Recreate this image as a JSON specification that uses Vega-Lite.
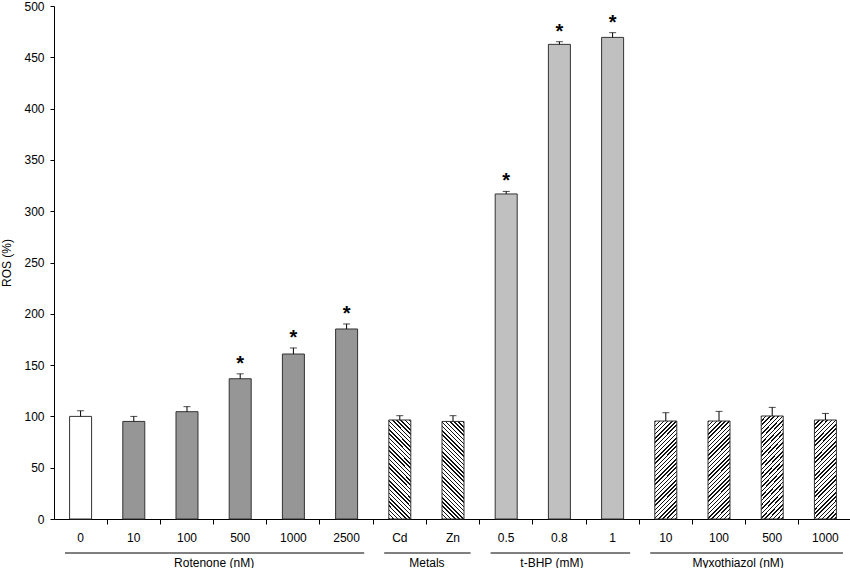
{
  "$schema": "https://vega.github.io/schema/vega-lite/v6.json",
  "padding": 0,
  "config": {
    "font": "Liberation Sans",
    "view": {"stroke": null},
    "axis": {"grid": false, "labelFont": "Liberation Sans", "labelFontSize": 12, "labelColor": "#000", "titleFont": "Liberation Sans", "titleFontSize": 12, "titleFontWeight": "normal", "titleColor": "#000", "domainColor": "#000", "tickColor": "#000"}
  },
  "datasets": {
    "bars": [
      {"id": "R|0", "kind": "ctrl", "ros": 100, "hi": 105.5, "sig": false},
      {"id": "R|10", "kind": "rot", "ros": 95.1, "hi": 100, "sig": false},
      {"id": "R|100", "kind": "rot", "ros": 104.6, "hi": 109.5, "sig": false},
      {"id": "R|500", "kind": "rot", "ros": 136.7, "hi": 141.5, "sig": true},
      {"id": "R|1000", "kind": "rot", "ros": 160.8, "hi": 166.7, "sig": true},
      {"id": "R|2500", "kind": "rot", "ros": 185.2, "hi": 190.1, "sig": true},
      {"id": "M|Cd", "kind": "metal", "ros": 96.5, "hi": 100.7, "sig": false},
      {"id": "M|Zn", "kind": "metal", "ros": 95.1, "hi": 100.7, "sig": false},
      {"id": "T|0.5", "kind": "tbhp", "ros": 316.8, "hi": 319.3, "sig": true},
      {"id": "T|0.8", "kind": "tbhp", "ros": 462.6, "hi": 465.2, "sig": true},
      {"id": "T|1", "kind": "tbhp", "ros": 469.4, "hi": 474, "sig": true},
      {"id": "X|10", "kind": "myxo", "ros": 95.5, "hi": 103.6, "sig": false},
      {"id": "X|100", "kind": "myxo", "ros": 95.5, "hi": 104.9, "sig": false},
      {"id": "X|500", "kind": "myxo", "ros": 100.4, "hi": 108.8, "sig": false},
      {"id": "X|1000", "kind": "myxo", "ros": 96.5, "hi": 102.9, "sig": false}
    ],
    "groups": [
      {"group": "Rotenone (nM)", "a": 0, "b": 6},
      {"group": "Metals", "a": 6, "b": 8},
      {"group": "t-BHP (mM)", "a": 8, "b": 11},
      {"group": "Myxothiazol (nM)", "a": 11, "b": 15}
    ]
  },
  "spacing": 9,
  "vconcat": [
    {
      "width": 798,
      "height": 513,
      "data": {"name": "bars"},
      "encoding": {
        "x": {"field": "id", "type": "nominal",
          "sort": ["R|0", "R|10", "R|100", "R|500", "R|1000", "R|2500", "M|Cd", "M|Zn", "T|0.5", "T|0.8", "T|1", "X|10", "X|100", "X|500", "X|1000"],
          "scale": {"paddingInner": 0.5865, "paddingOuter": 0.293},
          "axis": {"title": null, "labelAngle": 0, "labelExpr": "split(datum.label, '|')[1]", "tickSize": 5, "labelPadding": 8, "bandPosition": 1.709}
        }
      },
      "layer": [
        {"transform": [{"filter": "datum.kind === 'ctrl'"}],
         "mark": {"type": "bar", "fill": "#ffffff", "stroke": "#333333", "strokeWidth": 1},
         "encoding": {"y": {"field": "ros", "type": "quantitative", "scale": {"domain": [0, 500], "nice": false},
           "axis": {"title": "ROS (%)", "values": [0, 50, 100, 150, 200, 250, 300, 350, 400, 450, 500], "tickSize": 4, "labelPadding": 6, "titlePadding": 10}}}},
        {"transform": [{"filter": "datum.kind === 'rot'"}],
         "mark": {"type": "bar", "fill": "#969696", "stroke": "#333333", "strokeWidth": 1},
         "encoding": {"y": {"field": "ros", "type": "quantitative"}}},
        {"transform": [{"filter": "datum.kind === 'metal'"}],
         "mark": {"type": "bar", "stroke": "#333333", "strokeWidth": 1,
           "fill": {"gradient": "linear", "x1": 0, "y1": 1, "x2": 0.27, "y2": -0.2, "stops": [
             {"offset":0,"color":"#111"},{"offset":0.012,"color":"#111"},{"offset":0.012,"color":"#fff"},{"offset":0.034,"color":"#fff"},
             {"offset":0.034,"color":"#111"},{"offset":0.046,"color":"#111"},{"offset":0.046,"color":"#fff"},{"offset":0.068,"color":"#fff"},
             {"offset":0.068,"color":"#111"},{"offset":0.08,"color":"#111"},{"offset":0.08,"color":"#fff"},{"offset":0.102,"color":"#fff"},
             {"offset":0.102,"color":"#111"},{"offset":0.114,"color":"#111"},{"offset":0.114,"color":"#fff"},{"offset":0.136,"color":"#fff"},
             {"offset":0.136,"color":"#111"},{"offset":0.148,"color":"#111"},{"offset":0.148,"color":"#fff"},{"offset":0.17,"color":"#fff"},
             {"offset":0.17,"color":"#111"},{"offset":0.182,"color":"#111"},{"offset":0.182,"color":"#fff"},{"offset":0.204,"color":"#fff"},
             {"offset":0.204,"color":"#111"},{"offset":0.216,"color":"#111"},{"offset":0.216,"color":"#fff"},{"offset":0.238,"color":"#fff"},
             {"offset":0.238,"color":"#111"},{"offset":0.25,"color":"#111"},{"offset":0.25,"color":"#fff"},{"offset":0.272,"color":"#fff"},
             {"offset":0.272,"color":"#111"},{"offset":0.284,"color":"#111"},{"offset":0.284,"color":"#fff"},{"offset":0.306,"color":"#fff"},
             {"offset":0.306,"color":"#111"},{"offset":0.318,"color":"#111"},{"offset":0.318,"color":"#fff"},{"offset":0.34,"color":"#fff"},
             {"offset":0.34,"color":"#111"},{"offset":0.352,"color":"#111"},{"offset":0.352,"color":"#fff"},{"offset":0.374,"color":"#fff"},
             {"offset":0.374,"color":"#111"},{"offset":0.386,"color":"#111"},{"offset":0.386,"color":"#fff"},{"offset":0.408,"color":"#fff"},
             {"offset":0.408,"color":"#111"},{"offset":0.42,"color":"#111"},{"offset":0.42,"color":"#fff"},{"offset":0.442,"color":"#fff"},
             {"offset":0.442,"color":"#111"},{"offset":0.454,"color":"#111"},{"offset":0.454,"color":"#fff"},{"offset":0.476,"color":"#fff"},
             {"offset":0.476,"color":"#111"},{"offset":0.488,"color":"#111"},{"offset":0.488,"color":"#fff"},{"offset":0.51,"color":"#fff"},
             {"offset":0.51,"color":"#111"},{"offset":0.522,"color":"#111"},{"offset":0.522,"color":"#fff"},{"offset":0.544,"color":"#fff"},
             {"offset":0.544,"color":"#111"},{"offset":0.556,"color":"#111"},{"offset":0.556,"color":"#fff"},{"offset":0.578,"color":"#fff"},
             {"offset":0.578,"color":"#111"},{"offset":0.59,"color":"#111"},{"offset":0.59,"color":"#fff"},{"offset":0.612,"color":"#fff"},
             {"offset":0.612,"color":"#111"},{"offset":0.624,"color":"#111"},{"offset":0.624,"color":"#fff"},{"offset":0.646,"color":"#fff"},
             {"offset":0.646,"color":"#111"},{"offset":0.658,"color":"#111"},{"offset":0.658,"color":"#fff"},{"offset":0.68,"color":"#fff"},
             {"offset":0.68,"color":"#111"},{"offset":0.692,"color":"#111"},{"offset":0.692,"color":"#fff"},{"offset":0.714,"color":"#fff"},
             {"offset":0.714,"color":"#111"},{"offset":0.726,"color":"#111"},{"offset":0.726,"color":"#fff"},{"offset":0.748,"color":"#fff"},
             {"offset":0.748,"color":"#111"},{"offset":0.76,"color":"#111"},{"offset":0.76,"color":"#fff"},{"offset":0.782,"color":"#fff"},
             {"offset":0.782,"color":"#111"},{"offset":0.794,"color":"#111"},{"offset":0.794,"color":"#fff"},{"offset":0.816,"color":"#fff"},
             {"offset":0.816,"color":"#111"},{"offset":0.828,"color":"#111"},{"offset":0.828,"color":"#fff"},{"offset":0.85,"color":"#fff"},
             {"offset":0.85,"color":"#111"},{"offset":0.862,"color":"#111"},{"offset":0.862,"color":"#fff"},{"offset":0.884,"color":"#fff"},
             {"offset":0.884,"color":"#111"},{"offset":0.896,"color":"#111"},{"offset":0.896,"color":"#fff"},{"offset":0.918,"color":"#fff"},
             {"offset":0.918,"color":"#111"},{"offset":0.93,"color":"#111"},{"offset":0.93,"color":"#fff"},{"offset":0.952,"color":"#fff"},
             {"offset":0.952,"color":"#111"},{"offset":0.964,"color":"#111"},{"offset":0.964,"color":"#fff"},{"offset":1,"color":"#fff"}
           ]}},
         "encoding": {"y": {"field": "ros", "type": "quantitative"}}},
        {"transform": [{"filter": "datum.kind === 'tbhp'"}],
         "mark": {"type": "bar", "fill": "#c0c0c0", "stroke": "#333333", "strokeWidth": 1},
         "encoding": {"y": {"field": "ros", "type": "quantitative"}}},
        {"transform": [{"filter": "datum.kind === 'myxo'"}],
         "mark": {"type": "bar", "stroke": "#333333", "strokeWidth": 1,
           "fill": {"gradient": "linear", "x1": 0, "y1": 0, "x2": 0.27, "y2": 1.2, "stops": [
             {"offset":0,"color":"#111"},{"offset":0.012,"color":"#111"},{"offset":0.012,"color":"#fff"},{"offset":0.034,"color":"#fff"},
             {"offset":0.034,"color":"#111"},{"offset":0.046,"color":"#111"},{"offset":0.046,"color":"#fff"},{"offset":0.068,"color":"#fff"},
             {"offset":0.068,"color":"#111"},{"offset":0.08,"color":"#111"},{"offset":0.08,"color":"#fff"},{"offset":0.102,"color":"#fff"},
             {"offset":0.102,"color":"#111"},{"offset":0.114,"color":"#111"},{"offset":0.114,"color":"#fff"},{"offset":0.136,"color":"#fff"},
             {"offset":0.136,"color":"#111"},{"offset":0.148,"color":"#111"},{"offset":0.148,"color":"#fff"},{"offset":0.17,"color":"#fff"},
             {"offset":0.17,"color":"#111"},{"offset":0.182,"color":"#111"},{"offset":0.182,"color":"#fff"},{"offset":0.204,"color":"#fff"},
             {"offset":0.204,"color":"#111"},{"offset":0.216,"color":"#111"},{"offset":0.216,"color":"#fff"},{"offset":0.238,"color":"#fff"},
             {"offset":0.238,"color":"#111"},{"offset":0.25,"color":"#111"},{"offset":0.25,"color":"#fff"},{"offset":0.272,"color":"#fff"},
             {"offset":0.272,"color":"#111"},{"offset":0.284,"color":"#111"},{"offset":0.284,"color":"#fff"},{"offset":0.306,"color":"#fff"},
             {"offset":0.306,"color":"#111"},{"offset":0.318,"color":"#111"},{"offset":0.318,"color":"#fff"},{"offset":0.34,"color":"#fff"},
             {"offset":0.34,"color":"#111"},{"offset":0.352,"color":"#111"},{"offset":0.352,"color":"#fff"},{"offset":0.374,"color":"#fff"},
             {"offset":0.374,"color":"#111"},{"offset":0.386,"color":"#111"},{"offset":0.386,"color":"#fff"},{"offset":0.408,"color":"#fff"},
             {"offset":0.408,"color":"#111"},{"offset":0.42,"color":"#111"},{"offset":0.42,"color":"#fff"},{"offset":0.442,"color":"#fff"},
             {"offset":0.442,"color":"#111"},{"offset":0.454,"color":"#111"},{"offset":0.454,"color":"#fff"},{"offset":0.476,"color":"#fff"},
             {"offset":0.476,"color":"#111"},{"offset":0.488,"color":"#111"},{"offset":0.488,"color":"#fff"},{"offset":0.51,"color":"#fff"},
             {"offset":0.51,"color":"#111"},{"offset":0.522,"color":"#111"},{"offset":0.522,"color":"#fff"},{"offset":0.544,"color":"#fff"},
             {"offset":0.544,"color":"#111"},{"offset":0.556,"color":"#111"},{"offset":0.556,"color":"#fff"},{"offset":0.578,"color":"#fff"},
             {"offset":0.578,"color":"#111"},{"offset":0.59,"color":"#111"},{"offset":0.59,"color":"#fff"},{"offset":0.612,"color":"#fff"},
             {"offset":0.612,"color":"#111"},{"offset":0.624,"color":"#111"},{"offset":0.624,"color":"#fff"},{"offset":0.646,"color":"#fff"},
             {"offset":0.646,"color":"#111"},{"offset":0.658,"color":"#111"},{"offset":0.658,"color":"#fff"},{"offset":0.68,"color":"#fff"},
             {"offset":0.68,"color":"#111"},{"offset":0.692,"color":"#111"},{"offset":0.692,"color":"#fff"},{"offset":0.714,"color":"#fff"},
             {"offset":0.714,"color":"#111"},{"offset":0.726,"color":"#111"},{"offset":0.726,"color":"#fff"},{"offset":0.748,"color":"#fff"},
             {"offset":0.748,"color":"#111"},{"offset":0.76,"color":"#111"},{"offset":0.76,"color":"#fff"},{"offset":0.782,"color":"#fff"},
             {"offset":0.782,"color":"#111"},{"offset":0.794,"color":"#111"},{"offset":0.794,"color":"#fff"},{"offset":0.816,"color":"#fff"},
             {"offset":0.816,"color":"#111"},{"offset":0.828,"color":"#111"},{"offset":0.828,"color":"#fff"},{"offset":0.85,"color":"#fff"},
             {"offset":0.85,"color":"#111"},{"offset":0.862,"color":"#111"},{"offset":0.862,"color":"#fff"},{"offset":0.884,"color":"#fff"},
             {"offset":0.884,"color":"#111"},{"offset":0.896,"color":"#111"},{"offset":0.896,"color":"#fff"},{"offset":0.918,"color":"#fff"},
             {"offset":0.918,"color":"#111"},{"offset":0.93,"color":"#111"},{"offset":0.93,"color":"#fff"},{"offset":0.952,"color":"#fff"},
             {"offset":0.952,"color":"#111"},{"offset":0.964,"color":"#111"},{"offset":0.964,"color":"#fff"},{"offset":1,"color":"#fff"}
           ]}},
         "encoding": {"y": {"field": "ros", "type": "quantitative"}}},
        {"mark": {"type": "rule", "color": "#000", "strokeWidth": 1},
         "encoding": {"y": {"field": "ros", "type": "quantitative"}, "y2": {"field": "hi"}}},
        {"mark": {"type": "tick", "color": "#000", "size": 7, "thickness": 1, "orient": "horizontal"},
         "encoding": {"y": {"field": "hi", "type": "quantitative"}}},
        {"transform": [{"filter": "datum.sig"}],
         "mark": {"type": "text", "text": "*", "font": "Liberation Sans", "fontSize": 20, "fontWeight": "bold", "color": "#000", "baseline": "alphabetic", "dy": -4},
         "encoding": {"y": {"field": "hi", "type": "quantitative"}}}
      ]
    },
    {
      "width": 798,
      "height": 2,
      "data": {"name": "groups"},
      "mark": {"type": "rule", "color": "#000", "strokeWidth": 1, "xOffset": 11, "x2Offset": -9},
      "encoding": {
        "x": {"field": "a", "type": "quantitative", "scale": {"domain": [0, 15], "nice": false, "zero": false},
          "axis": {"title": null, "domain": false, "ticks": false, "values": [3, 7, 9.35, 12.85], "labelPadding": 3, "labelFlush": false, "labelOverlap": false,
            "labelExpr": "datum.value == 3 ? 'Rotenone (nM)' : datum.value == 7 ? 'Metals' : datum.value < 10 ? 't-BHP (mM)' : 'Myxothiazol (nM)'"}},
        "x2": {"field": "b"}
      }
    }
  ]
}
